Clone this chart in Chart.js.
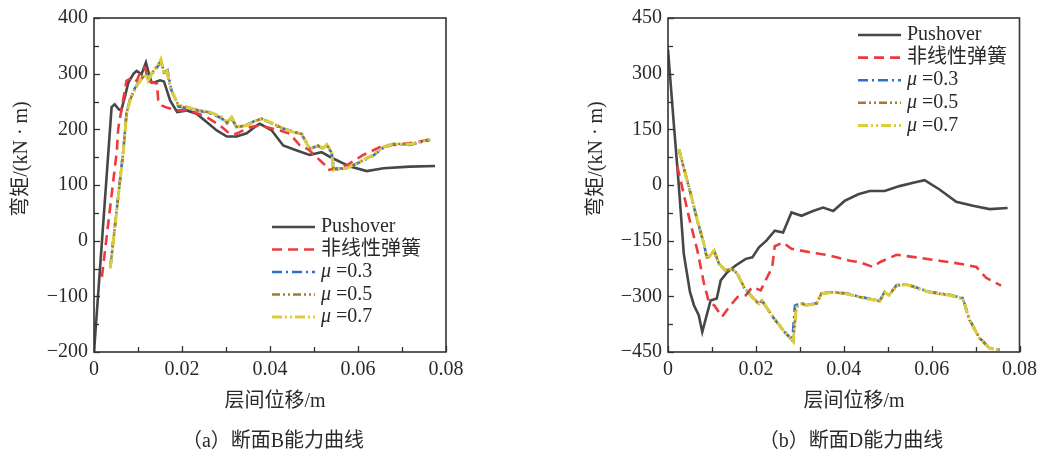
<!DOCTYPE html>
<html><head><meta charset="utf-8">
<script src="https://cdn.jsdelivr.net/npm/chart.js@4"></script>
<style>
html,body{margin:0;padding:0;background:#fff;}
#wrap{position:relative;width:1043px;height:456px;overflow:hidden;background:#fff;}
canvas{position:absolute;top:0;}
</style></head><body>
<div id="wrap">
<canvas id="cB" width="574" height="456" style="left:0;width:574px;height:456px"></canvas>
<canvas id="cD" width="469" height="456" style="left:574px;width:469px;height:456px"></canvas>
</div>
<script>
// ---------- tick labels ----------
const xTicks = [0, 0.02, 0.04, 0.06, 0.08];
const yTicksB = [-200, -100, 0, 100, 200, 300, 400];
const yTicksD = [-450, -300, -150, 0, 150, 300, 450];

// ---------- series labels ----------
const seriesNames = ['Pushover', '非线性弹簧', 'μ =0.3', 'μ =0.5', 'μ =0.7'];

// ---------- (a) section B ----------
const bPushX = [0, 0.0040, 0.0047, 0.0056, 0.0062, 0.0069, 0.0078, 0.0090, 0.0097, 0.0108, 0.0118, 0.0126, 0.0131, 0.0140, 0.0150, 0.0159, 0.0173, 0.0189, 0.0211, 0.0233, 0.0256, 0.0279, 0.0302, 0.0324, 0.0347, 0.0370, 0.0377, 0.0404, 0.0430, 0.0461, 0.0490, 0.0517, 0.0540, 0.0582, 0.0620, 0.0658, 0.0718, 0.0775];
const bPushY = [-200, 240, 245, 236, 234, 255, 284, 300, 305, 299, 320, 296, 284, 285, 288, 286, 252, 231, 234, 228, 213, 198, 187, 187, 193, 207, 210, 198, 171, 162, 154, 159, 149, 133, 125, 130, 133, 134];

const bSpringX = [0.0018, 0.0052, 0.0055, 0.0070, 0.0074, 0.0086, 0.0097, 0.0108, 0.0116, 0.0123, 0.0135, 0.0143, 0.0146, 0.0154, 0.0165, 0.0192, 0.0218, 0.0256, 0.0286, 0.0309, 0.0324, 0.0355, 0.0377, 0.0423, 0.0445, 0.0468, 0.0487, 0.0525, 0.0532, 0.0552, 0.0578, 0.0612, 0.0658, 0.0695, 0.0726, 0.0764];
const bSpringY = [-65, 162, 201, 270, 287, 293, 287, 308, 311, 287, 284, 282, 252, 243, 239, 234, 234, 222, 207, 192, 192, 204, 207, 198, 192, 171, 164, 136, 127, 130, 137, 154, 171, 173, 176, 182];

const bMu3X = [0.0037, 0.0067, 0.0074, 0.0082, 0.0093, 0.0108, 0.0120, 0.0125, 0.0135, 0.0146, 0.0152, 0.0160, 0.0167, 0.0176, 0.0192, 0.0210, 0.0241, 0.0264, 0.0290, 0.0302, 0.0313, 0.0324, 0.0347, 0.0370, 0.0381, 0.0400, 0.0423, 0.0453, 0.0472, 0.0490, 0.0510, 0.0521, 0.0529, 0.0540, 0.0546, 0.0574, 0.0605, 0.0635, 0.0658, 0.0680, 0.0718, 0.0764];
const bMu3Y = [-48, 165, 230, 254, 274, 292, 301, 290, 303, 314, 322, 302, 306, 270, 241, 238, 233, 229, 220, 211, 219, 204, 208, 217, 219, 212, 203, 196, 191, 166, 170, 165, 171, 158, 128, 131, 141, 153, 167, 173, 172, 181];

const bMu5X = [0.0037, 0.0067, 0.0074, 0.0082, 0.0093, 0.0108, 0.0120, 0.0123, 0.0135, 0.0146, 0.0152, 0.0159, 0.0165, 0.0173, 0.0192, 0.0210, 0.0241, 0.0264, 0.0290, 0.0302, 0.0313, 0.0324, 0.0347, 0.0370, 0.0381, 0.0400, 0.0423, 0.0453, 0.0472, 0.0490, 0.0510, 0.0521, 0.0529, 0.0540, 0.0544, 0.0574, 0.0605, 0.0635, 0.0658, 0.0680, 0.0718, 0.0764];
const bMu5Y = [-49, 164, 229, 253, 273, 291, 300, 289, 305, 316, 325, 300, 307, 275, 243, 240, 234, 230, 221, 212, 221, 204, 207, 216, 219, 213, 204, 195, 192, 165, 171, 166, 172, 160, 127, 130, 142, 154, 168, 174, 173, 182];

const bMu7X = [0.0037, 0.0067, 0.0074, 0.0082, 0.0093, 0.0108, 0.0120, 0.0123, 0.0135, 0.0146, 0.0152, 0.0159, 0.0165, 0.0173, 0.0192, 0.0210, 0.0241, 0.0264, 0.0290, 0.0302, 0.0313, 0.0324, 0.0347, 0.0370, 0.0381, 0.0400, 0.0423, 0.0453, 0.0472, 0.0490, 0.0510, 0.0521, 0.0529, 0.0540, 0.0544, 0.0574, 0.0605, 0.0635, 0.0658, 0.0680, 0.0718, 0.0764];
const bMu7Y = [-50, 163, 228, 252, 273, 290, 299, 288, 305, 317, 326, 299, 308, 276, 243, 240, 234, 231, 222, 213, 222, 204, 207, 216, 219, 213, 204, 195, 192, 164, 171, 166, 173, 160, 127, 130, 142, 154, 168, 174, 173, 182];

// ---------- (b) section D ----------
const dPushX = [0, 0.0014, 0.0025, 0.0036, 0.0050, 0.0059, 0.0070, 0.0078, 0.0086, 0.0097, 0.0111, 0.0120, 0.0135, 0.0154, 0.0177, 0.0192, 0.0207, 0.0224, 0.0243, 0.0262, 0.0281, 0.0304, 0.0330, 0.0353, 0.0376, 0.0402, 0.0433, 0.0459, 0.0493, 0.0527, 0.0558, 0.0584, 0.0618, 0.0656, 0.0694, 0.0732, 0.0773];
const dPushY = [365, 153, -7, -186, -288, -324, -351, -396, -360, -311, -306, -257, -235, -217, -199, -195, -168, -150, -123, -128, -74, -83, -70, -61, -70, -43, -25, -16, -16, -3, 6, 13, -12, -45, -56, -65, -62];

const dSpringX = [0.0021, 0.0029, 0.0048, 0.0067, 0.0082, 0.0093, 0.0105, 0.0123, 0.0139, 0.0158, 0.0177, 0.0192, 0.0211, 0.0226, 0.0237, 0.0243, 0.0262, 0.0281, 0.0323, 0.0368, 0.0414, 0.0436, 0.0467, 0.0482, 0.0520, 0.0565, 0.0618, 0.0664, 0.0702, 0.0724, 0.0758];
const dSpringY = [51, 11, -88, -177, -266, -315, -324, -355, -329, -302, -297, -275, -284, -248, -222, -165, -155, -172, -181, -190, -204, -208, -221, -208, -188, -195, -204, -212, -221, -250, -271];

const dMu3X = [0.0025, 0.0036, 0.0052, 0.0067, 0.0082, 0.0089, 0.0105, 0.0116, 0.0131, 0.0146, 0.0158, 0.0173, 0.0192, 0.0207, 0.0214, 0.0226, 0.0239, 0.0262, 0.0283, 0.0289, 0.0304, 0.0315, 0.0338, 0.0349, 0.0376, 0.0406, 0.0436, 0.0482, 0.0493, 0.0503, 0.0520, 0.0543, 0.0595, 0.0641, 0.0671, 0.0686, 0.0709, 0.0732, 0.0755];
const dMu3Y = [95, 45, -26, -97, -160, -199, -178, -212, -231, -227, -240, -276, -303, -321, -312, -334, -356, -392, -418, -325, -318, -323, -319, -292, -288, -292, -301, -312, -288, -296, -270, -267, -288, -296, -305, -362, -412, -439, -444];

const dMu5X = [0.0025, 0.0036, 0.0052, 0.0067, 0.0082, 0.0089, 0.0105, 0.0116, 0.0131, 0.0146, 0.0158, 0.0173, 0.0192, 0.0207, 0.0214, 0.0226, 0.0239, 0.0262, 0.0285, 0.0292, 0.0304, 0.0315, 0.0338, 0.0349, 0.0376, 0.0406, 0.0436, 0.0482, 0.0493, 0.0503, 0.0520, 0.0543, 0.0595, 0.0641, 0.0671, 0.0686, 0.0709, 0.0732, 0.0755];
const dMu5Y = [96, 46, -25, -96, -159, -199, -177, -212, -230, -226, -239, -275, -302, -320, -311, -333, -355, -391, -421, -329, -320, -324, -320, -293, -289, -293, -302, -313, -289, -297, -271, -268, -289, -297, -306, -364, -413, -440, -445];

const dMu7X = [0.0025, 0.0036, 0.0052, 0.0067, 0.0082, 0.0089, 0.0105, 0.0116, 0.0131, 0.0146, 0.0158, 0.0173, 0.0192, 0.0207, 0.0214, 0.0226, 0.0239, 0.0262, 0.0285, 0.0292, 0.0304, 0.0315, 0.0338, 0.0349, 0.0376, 0.0406, 0.0436, 0.0482, 0.0493, 0.0503, 0.0520, 0.0543, 0.0595, 0.0641, 0.0671, 0.0686, 0.0709, 0.0732, 0.0755];
const dMu7Y = [96, 46, -25, -96, -159, -199, -177, -212, -230, -226, -239, -275, -302, -320, -311, -333, -355, -391, -422, -329, -320, -324, -320, -293, -289, -293, -302, -313, -289, -297, -271, -268, -289, -297, -306, -364, -413, -440, -445];

// ---------- styling ----------
const FONT = "'Liberation Serif', 'Noto Sans CJK SC', serif";
const TXT = '#2a2a2a';
const styles = [
  {color: '#474747', width: 2.6, dash: []},
  {color: '#ee3a3e', width: 2.6, dash: [10, 6]},
  {color: '#2f6fd0', width: 2.6, dash: [10, 4, 2, 4]},
  {color: '#a27a34', width: 2.6, dash: [8, 3, 2, 3, 2, 3]},
  {color: '#dccd3a', width: 3.0, dash: [10, 3, 2, 3, 2, 3]}
];
const drawOrder = [4, 3, 2, 1, 0];

function pts(xs, ys) { return xs.map((x, i) => ({x: x, y: ys[i]})); }
function makeDatasets(series) {
  return series.map((s, i) => ({
    label: seriesNames[i],
    data: pts(s[0], s[1]),
    borderColor: styles[i].color,
    backgroundColor: styles[i].color,
    borderWidth: styles[i].width,
    borderDash: styles[i].dash,
    pointRadius: 0,
    tension: 0,
    fill: false,
    order: drawOrder[i]
  }));
}
function fmtY(v) { return v < 0 ? '\u2212' + Math.abs(v) : String(v); }
function fmtX(v) { return v === 0 ? '0' : v.toFixed(2); }

function decorPlugin(cfg) {
  return {
    id: 'decor',
    afterDraw(chart) {
      const ctx = chart.ctx, a = chart.chartArea, xs = chart.scales.x, ys = chart.scales.y;
      ctx.save();
      ctx.setLineDash([]);
      ctx.strokeStyle = '#333';
      // inner ticks
      ctx.lineWidth = 1.3;
      const xt = cfg.xTicks;
      for (let i = 0; i < xt.length; i++) {
        const vals = [xt[i]];
        if (i < xt.length - 1) vals.push((xt[i] + xt[i + 1]) / 2);
        vals.forEach((v, k) => {
          const px = Math.round(xs.getPixelForValue(v)) + 0.5;
          const len = k === 0 ? 6 : 5;
          ctx.beginPath(); ctx.moveTo(px, a.bottom); ctx.lineTo(px, a.bottom - len); ctx.stroke();
        });
      }
      const yt = cfg.yTicks;
      for (let i = 0; i < yt.length; i++) {
        const vals = [yt[i]];
        if (i < yt.length - 1) vals.push((yt[i] + yt[i + 1]) / 2);
        vals.forEach((v, k) => {
          const py = Math.round(ys.getPixelForValue(v)) + 0.5;
          const len = k === 0 ? 6 : 5;
          ctx.beginPath(); ctx.moveTo(a.left, py); ctx.lineTo(a.left + len, py); ctx.stroke();
        });
      }
      // frame
      ctx.lineWidth = 1.6;
      ctx.strokeRect(a.left, a.top, a.right - a.left, a.bottom - a.top);

      // legend
      const L = cfg.legend;
      chart.data.datasets.forEach((ds, i) => {
        const yy = L.y0 + i * L.dy;
        ctx.strokeStyle = ds.borderColor;
        ctx.lineWidth = ds.borderWidth;
        ctx.setLineDash(ds.borderDash || []);
        ctx.beginPath(); ctx.moveTo(L.x, yy); ctx.lineTo(L.x + L.len, yy); ctx.stroke();
        ctx.setLineDash([]);
        ctx.fillStyle = TXT;
        ctx.textBaseline = 'middle';
        ctx.textAlign = 'left';
        let tx = L.x + L.len + L.gap;
        if (ds.label.charAt(0) === 'μ') {
          ctx.font = 'italic 20px ' + FONT;
          ctx.fillText('μ', tx, yy);
          tx += ctx.measureText('μ').width;
          ctx.font = '20px ' + FONT;
          ctx.fillText(ds.label.slice(1), tx, yy);
        } else {
          ctx.font = '20px ' + FONT;
          ctx.fillText(ds.label, tx, yy);
        }
      });

      // axis titles and caption
      ctx.fillStyle = TXT;
      ctx.font = '20px ' + FONT;
      ctx.textAlign = 'center';
      ctx.textBaseline = 'middle';
      ctx.fillText('层间位移/m', cfg.xTitleX, 402);
      ctx.fillText(cfg.caption, cfg.capX, 442);
      ctx.save();
      ctx.translate(cfg.yTitleX, 159);
      ctx.rotate(-Math.PI / 2);
      ctx.fillText('弯矩/(kN · m)', 0, 0);
      ctx.restore();
      ctx.restore();
    }
  };
}

function makeChart(id, series, yTicks, rightPad, cfg) {
  cfg.xTicks = xTicks;
  cfg.yTicks = yTicks;
  return new Chart(document.getElementById(id), {
    type: 'line',
    data: {datasets: makeDatasets(series)},
    options: {
      responsive: false, animation: false, devicePixelRatio: 1,
      layout: {padding: {top: 16, right: rightPad, left: 0, bottom: 0}},
      plugins: {legend: {display: false}, tooltip: {enabled: false}},
      scales: {
        x: {
          type: 'linear', min: xTicks[0], max: xTicks[xTicks.length - 1],
          afterFit(s) { s.height = 104; },
          afterBuildTicks(s) { s.ticks = xTicks.map(v => ({value: v})); },
          grid: {display: false, drawTicks: false}, border: {display: false},
          ticks: {padding: 6, color: TXT, font: {size: 20, family: FONT}, maxRotation: 0, autoSkip: false, callback: v => fmtX(v)}
        },
        y: {
          type: 'linear', min: yTicks[0], max: yTicks[yTicks.length - 1],
          afterFit(s) { s.width = 94; },
          afterBuildTicks(s) { s.ticks = yTicks.map(v => ({value: v})); },
          grid: {display: false, drawTicks: false}, border: {display: false},
          ticks: {padding: 6, color: TXT, font: {size: 20, family: FONT}, autoSkip: false, callback: v => fmtY(v)}
        }
      }
    },
    plugins: [decorPlugin(cfg)]
  });
}

makeChart('cB',
  [[bPushX, bPushY], [bSpringX, bSpringY], [bMu3X, bMu3Y], [bMu5X, bMu5Y], [bMu7X, bMu7Y]],
  yTicksB, 128,
  {legend: {x: 272, y0: 227, dy: 22.5, len: 43, gap: 6}, xTitleX: 275, capX: 273, yTitleX: 22, caption: '（a）断面B能力曲线'});

makeChart('cD',
  [[dPushX, dPushY], [dSpringX, dSpringY], [dMu3X, dMu3Y], [dMu5X, dMu5Y], [dMu7X, dMu7Y]],
  yTicksD, 23,
  {legend: {x: 284, y0: 35, dy: 22.6, len: 43, gap: 6}, xTitleX: 280, capX: 277, yTitleX: 23, caption: '（b）断面D能力曲线'});
</script>
</body></html>
